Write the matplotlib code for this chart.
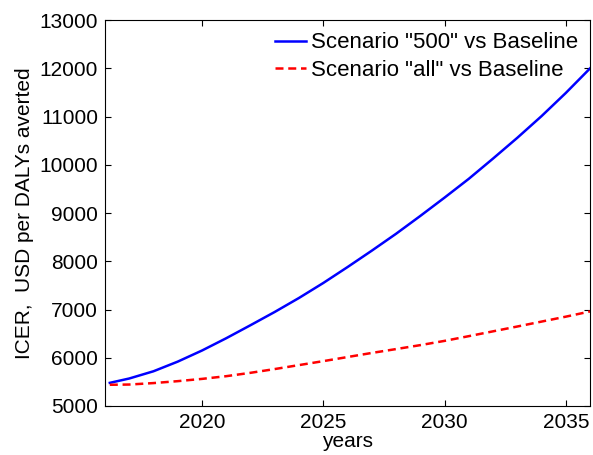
import numpy as np
import matplotlib
matplotlib.use('Agg')
import matplotlib.pyplot as plt

plt.rcParams['font.family'] = ['Liberation Sans', 'DejaVu Sans']

years = [2016.2, 2017, 2018, 2019, 2020, 2021, 2022, 2023, 2024, 2025, 2026,
         2027, 2028, 2029, 2030, 2031, 2032, 2033, 2034, 2035, 2036]
icer_500 = [5480, 5570, 5720, 5920, 6150, 6405, 6675, 6950, 7240, 7550, 7880,
            8220, 8570, 8940, 9320, 9710, 10130, 10560, 11010, 11490, 12000]
icer_all = [5440, 5445, 5475, 5515, 5562, 5618, 5688, 5766, 5848, 5930, 6015,
            6100, 6180, 6262, 6350, 6448, 6548, 6648, 6750, 6852, 6960]

fig = plt.figure(figsize=(5.93, 4.55), dpi=100)
ax = fig.add_axes([0.177, 0.1077, 0.818, 0.848])

ax.plot(years, icer_500, color='#0000ff', lw=1.8, label='Scenario "500" vs Baseline')
ax.plot(years, icer_all, color='#ff0000', lw=1.8, ls=(0, (3.2, 1.9)),
        label='Scenario "all" vs Baseline')

ax.set_xlim(2016, 2036)
ax.set_ylim(5000, 13000)
ax.set_xticks([2020, 2025, 2030, 2035])
ax.set_yticks(np.arange(5000, 13001, 1000))
ax.tick_params(direction='in', top=True, right=True, length=4, labelsize=15, pad=5)
ax.set_xlabel('years', fontsize=15, labelpad=0)
ax.set_ylabel('ICER,  USD per DALYs averted', fontsize=15, labelpad=4)

ax.legend(loc='upper right', frameon=False, fontsize=16, handlelength=1.4,
          handletextpad=0.2, borderaxespad=0.15, labelspacing=0.28)

fig.savefig('out.png', dpi=100)
